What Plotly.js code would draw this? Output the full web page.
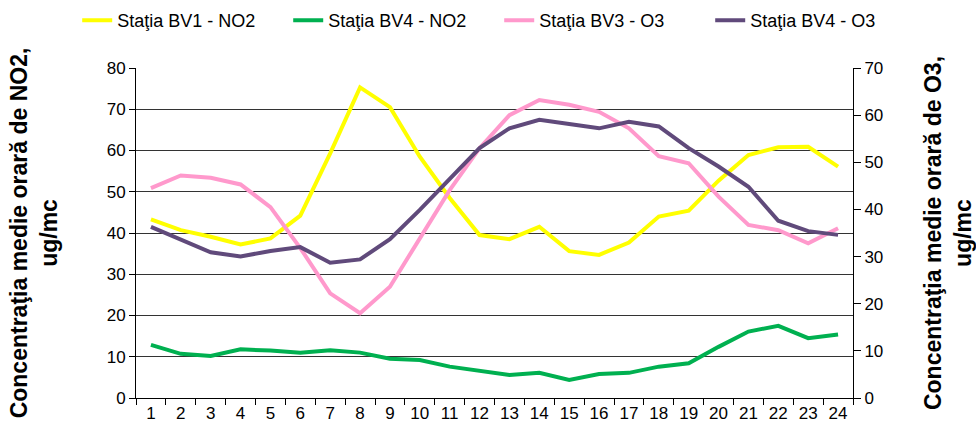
<!DOCTYPE html>
<html>
<head>
<meta charset="utf-8">
<script src="https://cdn.plot.ly/plotly-3.0.1.min.js"></script>
<style>html,body{margin:0;padding:0;background:#fff;}#chart{width:976px;height:432px;}</style>
</head>
<body>
<div id="chart"></div>
<script>
const hours = ["1","2","3","4","5","6","7","8","9","10","11","12","13","14","15","16","17","18","19","20","21","22","23","24"];
const bv1NO2 = [43.3,40.7,39.1,37.2,38.7,44.2,59.3,75.3,70.5,58.5,48.5,39.5,38.5,41.5,35.6,34.7,37.7,44.0,45.4,52.7,58.9,60.8,60.9,56.1];
const bv4NO2 = [12.9,10.7,10.2,11.8,11.5,11.0,11.6,11.0,9.5,9.2,7.6,6.6,5.6,6.1,4.4,5.8,6.1,7.6,8.4,12.4,16.1,17.5,14.5,15.4];
const bv3O3 = [44.5,47.2,46.7,45.3,40.5,31.8,22.2,18.0,23.6,33.9,44.1,53.0,60.0,63.2,62.2,60.7,57.2,51.3,49.8,42.7,36.7,35.6,32.8,36.0];
const bv4O3 = [36.3,33.7,30.9,30.0,31.2,32.0,28.7,29.4,33.7,39.9,46.6,53.0,57.2,59.0,58.1,57.2,58.6,57.6,53.0,49.1,44.8,37.6,35.4,34.6];
const names = ["Staţia BV1 - NO2","Staţia BV4 - NO2","Staţia BV3 - O3","Staţia BV4 - O3"];
const leftTitle = "Concentraţia medie orară de NO2,<br>ug/mc";
const rightTitle = "Concentraţia medie orară de O3,<br>ug/mc";

const font = "Liberation Sans, Arial, sans-serif";
const traces = [
  {x: hours, y: bv1NO2, name: names[0], type: "scatter", mode: "lines", line: {color: "#FFFF00", width: 4}, yaxis: "y"},
  {x: hours, y: bv4NO2, name: names[1], type: "scatter", mode: "lines", line: {color: "#00B050", width: 4}, yaxis: "y"},
  {x: hours, y: bv3O3, name: names[2], type: "scatter", mode: "lines", line: {color: "#FF99CC", width: 4}, yaxis: "y2"},
  {x: hours, y: bv4O3, name: names[3], type: "scatter", mode: "lines", line: {color: "#604A7B", width: 4}, yaxis: "y2"}
];
const layout = {
  width: 976, height: 432,
  margin: {l: 136, r: 123, t: 68, b: 34, autoexpand: false},
  paper_bgcolor: "#fff", plot_bgcolor: "#fff",
  font: {family: font, size: 17, color: "#000"},
  showlegend: true,
  legend: {orientation: "h", x: -0.082, xanchor: "left", y: 1.2, yanchor: "top",
           entrywidth: 166, entrywidthmode: "pixels",
           font: {family: font, size: 18, color: "#000"}, bgcolor: "rgba(0,0,0,0)", traceorder: "normal"},
  xaxis: {type: "category", range: [-0.5, 23.5], showline: true, linecolor: "#000", linewidth: 1,
          ticks: "outside", tickson: "boundaries", ticklen: 6, tickcolor: "#000",
          showgrid: false, zeroline: false, tickfont: {size: 17}},
  yaxis: {range: [0, 80], dtick: 10, showline: true, linecolor: "#000", linewidth: 1,
          ticks: "outside", ticklen: 6, tickcolor: "#000", showgrid: true, gridcolor: "#333", gridwidth: 1,
          zeroline: false, tickfont: {size: 17},
          title: {text: leftTitle, font: {family: font, size: 23, weight: "bold"}, standoff: 42}},
  yaxis2: {range: [0, 70], dtick: 10, overlaying: "y", side: "right", showline: true, linecolor: "#000", linewidth: 1,
           ticks: "outside", ticklen: 7, tickcolor: "#000", showgrid: false, zeroline: false, tickfont: {size: 17},
           title: {text: rightTitle, font: {family: font, size: 23, weight: "bold"}, standoff: 56}}
};
Plotly.newPlot("chart", traces, layout, {displayModeBar: false, staticPlot: true});
</script>
</body>
</html>
